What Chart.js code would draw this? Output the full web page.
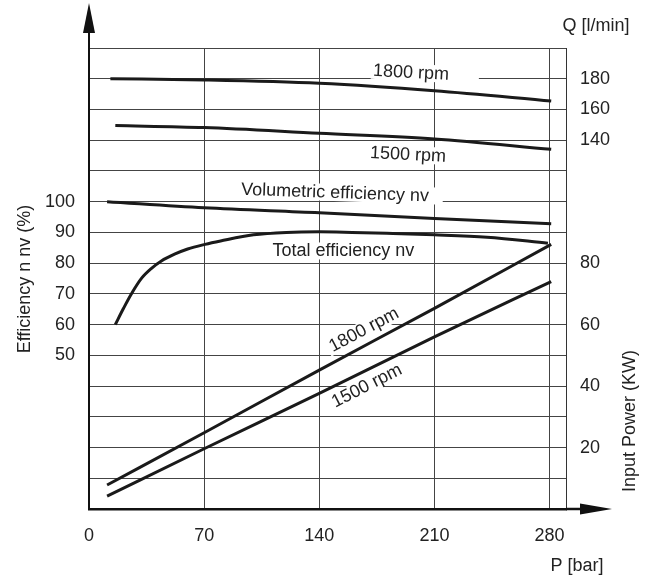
<!DOCTYPE html>
<html>
<head>
<meta charset="utf-8">
<script src="https://cdn.jsdelivr.net/npm/chart.js@4/dist/chart.umd.min.js"></script>
<style>
  html, body { margin: 0; padding: 0; background: #fff; }
</style>
</head>
<body>
<canvas id="myChart" width="654" height="582"></canvas>
<script>
// pressure P [bar] on the x axis
const pressureTicks = [0, 70, 140, 210, 280];
const effTicks = [50, 60, 70, 80, 90, 100];
const powerTicks = [20, 40, 60, 80];
const flowTicks = [140, 160, 180];

// flow Q [l/min]
const flowP1800 = [13, 70, 140, 210, 281];
const flow1800 = [180, 179.2, 177, 172.2, 165.5];
const flowP1500 = [16, 70, 140, 210, 281];
const flow1500 = [149.5, 148.2, 144.5, 140.8, 134.1];

// efficiency (%)
const volP = [11, 70, 140, 210, 281];
const volEff = [100, 98, 96.4, 94.5, 92.8];
const totalP = [16, 21, 26, 32, 38, 44, 52, 60, 70.5, 80, 100, 120, 140, 160, 181, 210, 242, 279];
const totalEff = [60, 65.3, 70.2, 75.1, 78.3, 80.7, 82.9, 84.6, 86.1, 87.2, 89.2, 90.0, 90.2, 90.0, 89.7, 89.2, 88.4, 86.5];

// input power (KW)
const powerP = [11, 70, 140, 210, 281];
const power1800 = [7.8, 24.8, 45.2, 65.3, 86.1];
const power1500 = [4.2, 19.6, 37.6, 56.0, 74.0];

const FONT = '"Liberation Sans", Arial, sans-serif';
const INK = '#222';
const LINE = '#1a1a1a';

function pts(xs, ys) {
    return xs.map((x, i) => ({ x: x, y: ys[i] }));
}

function curve(label, xs, ys, axis) {
    return {
        label: label,
        data: pts(xs, ys),
        yAxisID: axis,
        borderColor: LINE,
        borderWidth: 3,
        pointRadius: 0,
        fill: false,
        cubicInterpolationMode: 'monotone'
    };
}

// annotation texts, positioned in x / left-axis units
const notes = [
    { text: '1800 rpm', x: 195.8, y: 141.9, angle: 3, padL: 2, padR: 30 },
    { text: '1500 rpm', x: 193.9, y: 115.2, angle: 3, padL: 2, padR: 2 },
    { text: 'Volumetric efficiency nv', x: 149.6, y: 102.8, angle: 2, padL: 2, padR: 14 },
    { text: 'Total efficiency nv', x: 154.7, y: 83.8, angle: 0, padL: 2, padR: 2 },
    { text: '1800 rpm', x: 167.2, y: 58.2, angle: -28, padL: 3, padR: 3 },
    { text: '1500 rpm', x: 169.0, y: 40.0, angle: -27, padL: 3, padR: 3 }
];

function eachNote(chart, fn) {
    const ctx = chart.ctx;
    const xs = chart.scales.x, ys = chart.scales.y;
    notes.forEach(n => {
        ctx.save();
        ctx.translate(xs.getPixelForValue(n.x), ys.getPixelForValue(n.y));
        ctx.rotate(n.angle * Math.PI / 180);
        ctx.font = '18px ' + FONT;
        fn(ctx, n);
        ctx.restore();
    });
}

const overlay = {
    id: 'overlay',
    beforeDatasetsDraw(chart) {
        // white patches behind the labels cut the grid lines
        eachNote(chart, (ctx, n) => {
            const w = ctx.measureText(n.text).width;
            ctx.fillStyle = '#fff';
            ctx.fillRect(-w / 2 - n.padL, -9, w + n.padL + n.padR, 17);
        });
    },
    afterDatasetsDraw(chart) {
        eachNote(chart, (ctx, n) => {
            ctx.fillStyle = INK;
            ctx.textAlign = 'center';
            ctx.textBaseline = 'middle';
            ctx.fillText(n.text, 0, 0);
        });
    },
    afterDraw(chart) {
        const ctx = chart.ctx;
        const a = chart.chartArea;
        ctx.save();
        ctx.fillStyle = '#111';
        ctx.strokeStyle = '#111';

        // y arrow
        ctx.lineWidth = 2;
        ctx.beginPath();
        ctx.moveTo(a.left, a.top);
        ctx.lineTo(a.left, 25);
        ctx.stroke();
        ctx.beginPath();
        ctx.moveTo(a.left - 6, 33);
        ctx.lineTo(a.left + 6, 33);
        ctx.lineTo(a.left, 3);
        ctx.closePath();
        ctx.fill();

        // x arrow
        ctx.lineWidth = 2.5;
        ctx.beginPath();
        ctx.moveTo(a.right, a.bottom);
        ctx.lineTo(585, a.bottom);
        ctx.stroke();
        ctx.beginPath();
        ctx.moveTo(580, a.bottom - 5.5);
        ctx.lineTo(580, a.bottom + 5.5);
        ctx.lineTo(612, a.bottom);
        ctx.closePath();
        ctx.fill();

        // axis titles
        ctx.fillStyle = INK;
        ctx.font = '18px ' + FONT;
        ctx.textAlign = 'center';
        ctx.textBaseline = 'middle';
        ctx.fillText('Q [l/min]', 596, 26);
        ctx.fillText('P [bar]', 577, 566);

        ctx.save();
        ctx.translate(25, 279);
        ctx.rotate(-Math.PI / 2);
        ctx.fillText('Efficiency n nv (%)', 0, 0);
        ctx.restore();

        ctx.save();
        ctx.translate(630, 421);
        ctx.rotate(-Math.PI / 2);
        ctx.fillText('Input Power (KW)', 0, 0);
        ctx.restore();

        ctx.restore();
    }
};

const tickFont = { family: FONT, size: 18 };

const chart = new Chart(document.getElementById('myChart').getContext('2d'), {
    type: 'line',
    data: {
        datasets: [
            curve('Q 1800 rpm', flowP1800, flow1800, 'yQ'),
            curve('Q 1500 rpm', flowP1500, flow1500, 'yQ'),
            curve('Volumetric efficiency', volP, volEff, 'y'),
            curve('Total efficiency', totalP, totalEff, 'y'),
            curve('Power 1800 rpm', powerP, power1800, 'yR'),
            curve('Power 1500 rpm', powerP, power1500, 'yR')
        ]
    },
    options: {
        responsive: false,
        animation: false,
        layout: { padding: { top: 48, left: 0, right: 0, bottom: 0 } },
        plugins: {
            legend: { display: false },
            tooltip: { enabled: false }
        },
        scales: {
            x: {
                type: 'linear',
                min: 0,
                max: 290,
                afterBuildTicks: s => { s.ticks = pressureTicks.map(v => ({ value: v })); },
                afterFit: s => { s.height = 73; },
                grid: { color: '#444', lineWidth: 1, drawTicks: false },
                border: { display: true, color: '#111', width: 2.5 },
                ticks: { font: tickFont, color: INK, padding: 16, maxRotation: 0, autoSkip: false }
            },
            y: {
                position: 'left',
                min: 0,
                max: 150,
                afterBuildTicks: s => {
                    const t = [];
                    for (let v = 0; v <= 150; v += 10) t.push({ value: v });
                    s.ticks = t;
                },
                afterFit: s => { s.width = 89; },
                grid: { color: '#444', lineWidth: 1, drawTicks: false },
                border: { display: true, color: '#111', width: 2 },
                ticks: {
                    font: tickFont, color: INK, padding: 14, autoSkip: false,
                    callback: v => effTicks.includes(v) ? String(v) : ''
                }
            },
            yR: {
                position: 'right',
                min: 0,
                max: 150,
                afterBuildTicks: s => {
                    // flow labels sit on the same grid: Q = 2v - 100
                    const t = powerTicks.map(v => ({ value: v }))
                        .concat(flowTicks.map(q => ({ value: (q + 100) / 2 })));
                    s.ticks = t;
                },
                afterFit: s => { s.width = 88; },
                grid: { display: false, drawTicks: false },
                border: { display: true, color: '#333', width: 1 },
                ticks: {
                    font: tickFont, color: INK, padding: 14, autoSkip: false,
                    callback: v => v > 100 ? String(2 * v - 100) : String(v)
                }
            },
            yQ: {
                display: false,
                min: -100,
                max: 200
            }
        }
    },
    plugins: [overlay]
});
</script>
</body>
</html>
